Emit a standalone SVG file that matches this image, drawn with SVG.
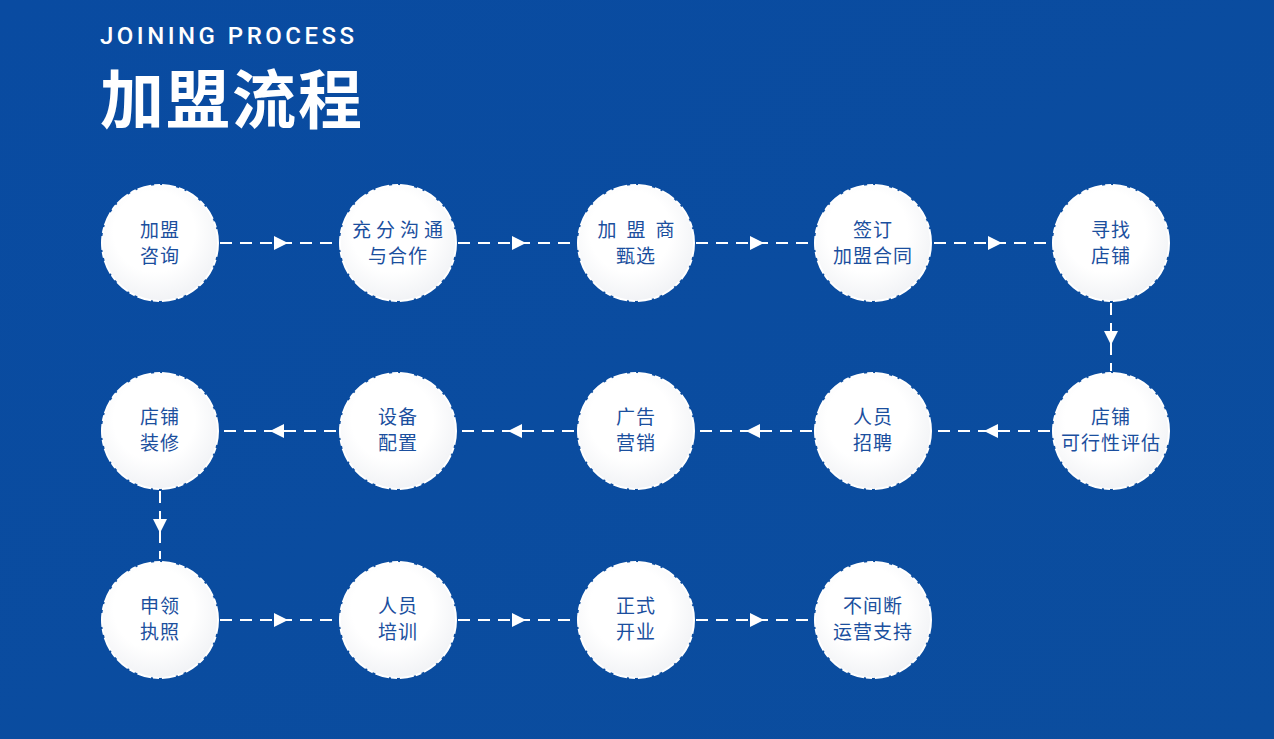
<svg xmlns="http://www.w3.org/2000/svg" width="1274" height="739" viewBox="0 0 1274 739">
<defs>
<linearGradient id="bg" x1="0" y1="0" x2="1" y2="1"><stop offset="0" stop-color="#094ba1"/><stop offset="1" stop-color="#0b4d9e"/></linearGradient>
<radialGradient id="cg" cx="0.45" cy="0.4" r="0.7"><stop offset="0.5" stop-color="#ffffff"/><stop offset="1" stop-color="#eceef2"/></radialGradient>
</defs>
<style>
.c{fill:url(#cg);stroke:#fff;stroke-width:2;stroke-dasharray:14 3 6 2}
.t{font-family:"Noto Sans CJK SC",sans-serif;font-size:19px;fill:#1b4f9e;text-anchor:middle;letter-spacing:1px}
.l{stroke:#fff;stroke-width:2;stroke-dasharray:12 8;fill:none}
</style>
<rect width="1274" height="739" fill="url(#bg)"/>
<text x="100" y="44" font-family="Roboto,'Open Sans',sans-serif" font-size="24" font-weight="500" fill="#fff" letter-spacing="3.5">JOINING PROCESS</text>
<text x="100" y="123" font-family="'Noto Sans CJK SC',sans-serif" font-size="64" font-weight="bold" fill="#fff" letter-spacing="2">加盟流程</text>
<g id="connectors">
<path class="l" d="M220,243H336M458,243H574M696,243H812M934,243H1050M1111,303V371M1050,431H934M812,431H696M574,431H458M336,431H220M160,491V559M220,620H336M458,620H574M696,620H812"/>
<g fill="#fff">
<path d="M274,236L288,243L274,250z"/><path d="M512,236L526,243L512,250z"/><path d="M750,236L764,243L750,250z"/><path d="M988,236L1002,243L988,250z"/>
<path d="M1104,331L1118,331L1111,345z"/>
<path d="M998,424L984,431L998,438z"/><path d="M760,424L746,431L760,438z"/><path d="M522,424L508,431L522,438z"/><path d="M284,424L270,431L284,438z"/>
<path d="M153,519L167,519L160,533z"/>
<path d="M274,613L288,620L274,627z"/><path d="M512,613L526,620L512,627z"/><path d="M750,613L764,620L750,627z"/>
</g>
</g>
<g id="n1"><circle class="c" cx="160" cy="243" r="58"/><text class="t" x="160" y="237">加盟</text><text class="t" x="160" y="263">咨询</text></g>
<g id="n2"><circle class="c" cx="398" cy="243" r="58"/><text class="t" x="400" y="237" style="letter-spacing:5px">充分沟通</text><text class="t" x="398" y="263">与合作</text></g>
<g id="n3"><circle class="c" cx="636" cy="243" r="58"/><text class="t" x="641" y="237" style="letter-spacing:10px">加盟商</text><text class="t" x="636" y="263">甄选</text></g>
<g id="n4"><circle class="c" cx="873" cy="243" r="58"/><text class="t" x="873" y="237">签订</text><text class="t" x="873" y="263">加盟合同</text></g>
<g id="n5"><circle class="c" cx="1111" cy="243" r="58"/><text class="t" x="1111" y="237">寻找</text><text class="t" x="1111" y="263">店铺</text></g>
<g id="n6"><circle class="c" cx="1111" cy="431" r="58"/><text class="t" x="1111" y="424">店铺</text><text class="t" x="1111" y="450">可行性评估</text></g>
<g id="n7"><circle class="c" cx="873" cy="431" r="58"/><text class="t" x="873" y="424">人员</text><text class="t" x="873" y="450">招聘</text></g>
<g id="n8"><circle class="c" cx="636" cy="431" r="58"/><text class="t" x="636" y="424">广告</text><text class="t" x="636" y="450">营销</text></g>
<g id="n9"><circle class="c" cx="398" cy="431" r="58"/><text class="t" x="398" y="424">设备</text><text class="t" x="398" y="450">配置</text></g>
<g id="n10"><circle class="c" cx="160" cy="431" r="58"/><text class="t" x="160" y="424">店铺</text><text class="t" x="160" y="450">装修</text></g>
<g id="n11"><circle class="c" cx="160" cy="620" r="58"/><text class="t" x="160" y="613">申领</text><text class="t" x="160" y="639">执照</text></g>
<g id="n12"><circle class="c" cx="398" cy="620" r="58"/><text class="t" x="398" y="613">人员</text><text class="t" x="398" y="639">培训</text></g>
<g id="n13"><circle class="c" cx="636" cy="620" r="58"/><text class="t" x="636" y="613">正式</text><text class="t" x="636" y="639">开业</text></g>
<g id="n14"><circle class="c" cx="873" cy="620" r="58"/><text class="t" x="873" y="613">不间断</text><text class="t" x="873" y="639">运营支持</text></g>
</svg>
